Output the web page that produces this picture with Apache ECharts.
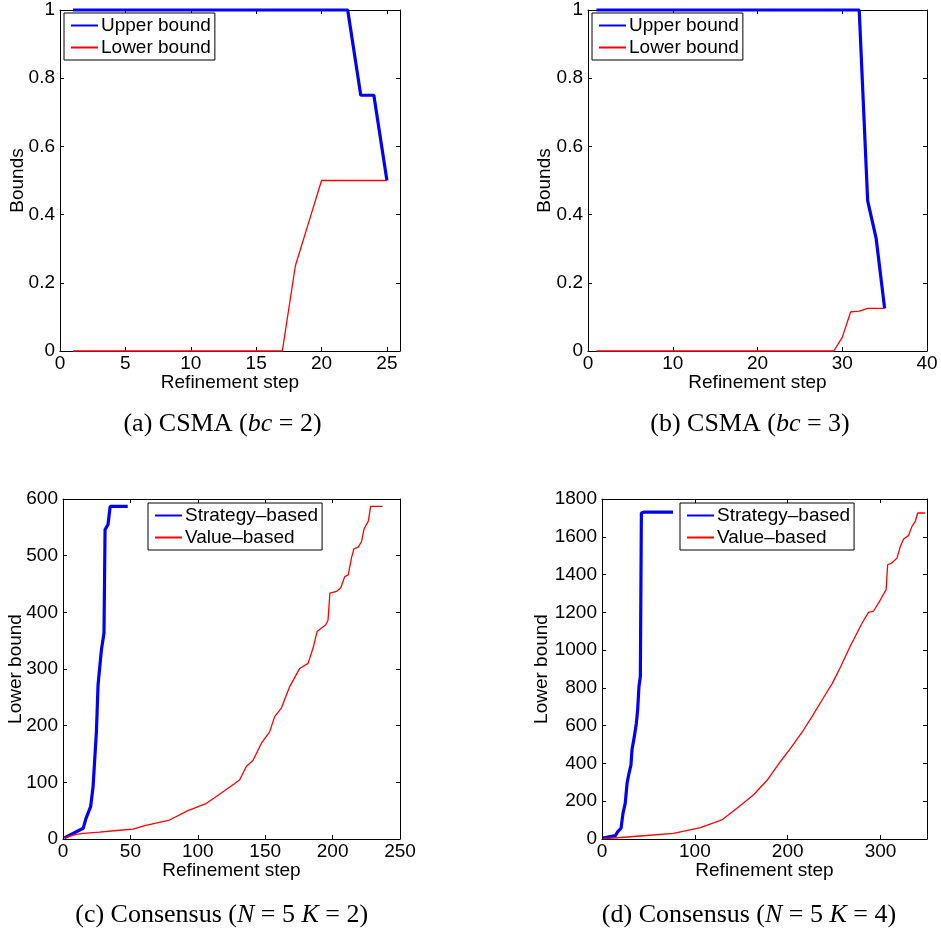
<!DOCTYPE html>
<html>
<head>
<meta charset="utf-8">
<script src="https://cdn.jsdelivr.net/npm/echarts@6/dist/echarts.min.js"></script>
<style>
html,body{margin:0;padding:0;background:#fff;}
#chart{width:941px;height:934px;}
</style>
</head>
<body>
<div id="chart"></div>
<script>
// ---- Data ----
// (a) CSMA bc=2
const csma2Steps = [1,2,3,4,5,6,7,8,9,10,11,12,13,14,15,16,17,18,19,20,21,22,23,24,25];
const csma2Upper = [1,1,1,1,1,1,1,1,1,1,1,1,1,1,1,1,1,1,1,1,1,1,0.75,0.75,0.5];
const csma2Lower = [0,0,0,0,0,0,0,0,0,0,0,0,0,0,0,0,0,0.25,0.375,0.5,0.5,0.5,0.5,0.5,0.5];
// (b) CSMA bc=3
const csma3Steps = [1,2,3,4,5,6,7,8,9,10,11,12,13,14,15,16,17,18,19,20,21,22,23,24,25,26,27,28,29,30,31,32,33,34,35];
const csma3Upper = [1,1,1,1,1,1,1,1,1,1,1,1,1,1,1,1,1,1,1,1,1,1,1,1,1,1,1,1,1,1,1,1,0.44,0.33,0.125];
const csma3Lower = [0,0,0,0,0,0,0,0,0,0,0,0,0,0,0,0,0,0,0,0,0,0,0,0,0,0,0,0,0,0.04,0.115,0.117,0.125,0.125,0.125];
// (c) Consensus N=5 K=2
const cons2StrategySteps = [1,15,17,20.5,22.3,24.8,26,28.5,30.4,31.2,32.2,33.4,35,48];
const cons2StrategyValues = [2,19,36,57,92,190,272,334,363,546,549,555,587,587];
const cons2ValueSteps = [1,5,10,15,27,40,52,60.6,79,92.7,106.4,113.8,127.4,131,136,141,147.2,153.3,157,162,168.2,175.6,181.8,185.5,188.5,194.9,196.6,198,203,206,209,211.6,214,215.8,219,221.5,223.3,226.5,228.2,237];
const cons2ValueValues = [2,5,8,10,12,15,17.6,23.5,33.5,50,63,75,98,104,128,139,169,189,216,231,269,301,310,337,366,378,386,434,437,443,463,466,496,512,515,525,547,561,587,587];
// (d) Consensus N=5 K=4
const cons4StrategySteps = [1,14.4,17,20.5,22.6,25,27,28.7,31.2,32.3,34.8,37,38.4,39.8,41.3,42.4,45,76.5];
const cons4StrategyValues = [5,18,39,57,136,189,295,339,392,472,542,613,684,807,860,1726,1730,1730];
const cons4ValueSteps = [1,20,41,77,106,129,145,163,178,192,203,217,226,237,248,257,267,280,287,292.5,299.7,306,307.6,312,317.7,321.3,324.8,330,333.8,337.4,340,348];
const cons4ValueValues = [2,8,16,30,60,101,162,233,312,409,480,577,647,736,824,912,1018,1142,1200,1207,1265,1320,1452,1461,1487,1549,1588,1606,1655,1682,1726,1726];

const xLabel = 'Refinement step';
const yLabelBounds = 'Bounds';
const yLabelLower = 'Lower bound';
const namesCsma = ['Upper bound', 'Lower bound'];
const namesCons = ['Strategy\u2013based', 'Value\u2013based'];

// ---- Styling ----
const SANS = "'Liberation Sans', Arial, Helvetica, sans-serif";
const SERIF = "'Liberation Serif', 'Times New Roman', serif";
const FS = 19;

function zip(xs, ys){ return xs.map((x,i)=>[x, ys[i]]); }

const grids = [
  {left:60, top:10, width:340, height:341},
  {left:588, top:10, width:339, height:341},
  {left:63, top:499, width:337, height:340},
  {left:602, top:499, width:325, height:340}
];
const axisSpec = [
  {xmin:0,xmax:26,xint:5,ymin:0,ymax:1,yint:0.2,yname:yLabelBounds,ygap:33,hideMaxX:true},
  {xmin:0,xmax:40,xint:10,ymin:0,ymax:1,yint:0.2,yname:yLabelBounds,ygap:33.5,hideMaxX:false},
  {xmin:0,xmax:250,xint:50,ymin:0,ymax:600,yint:100,yname:yLabelLower,ygap:38,hideMaxX:false},
  {xmin:0,xmax:350,xint:100,ymin:0,ymax:1800,yint:200,yname:yLabelLower,ygap:50.5,hideMaxX:true}
];

const plainNum = v => String(Math.round(v * 1000) / 1000);

const xAxes = [], yAxes = [];
axisSpec.forEach((s, g) => {
  const line = {show:true, onZero:false, lineStyle:{color:'#000', width:1}};
  const tick = {show:true, inside:true, length:4, lineStyle:{color:'#000', width:1}};
  xAxes.push({type:'value', gridIndex:g, position:'bottom', min:s.xmin, max:s.xmax, interval:s.xint,
    axisLine:line, axisTick:tick, splitLine:{show:false},
    axisLabel:{color:'#000', fontSize:FS, fontFamily:SANS, margin:3, showMaxLabel: !s.hideMaxX, hideOverlap:false, formatter:plainNum},
    name:xLabel, nameLocation:'middle', nameGap:22, nameMoveOverlap:false,
    nameTextStyle:{color:'#000', fontSize:FS, fontFamily:SANS}});
  xAxes.push({type:'value', gridIndex:g, position:'top', min:s.xmin, max:s.xmax, interval:s.xint,
    axisLine:line, axisTick:tick, splitLine:{show:false}, axisLabel:{show:false}});
  yAxes.push({type:'value', gridIndex:g, position:'left', min:s.ymin, max:s.ymax, interval:s.yint,
    axisLine:line, axisTick:tick, splitLine:{show:false},
    axisLabel:{color:'#000', fontSize:FS, fontFamily:SANS, margin:5, hideOverlap:false, formatter:plainNum},
    name:s.yname, nameLocation:'middle', nameGap:s.ygap, nameMoveOverlap:false,
    nameTextStyle:{color:'#000', fontSize:FS, fontFamily:SANS}});
  yAxes.push({type:'value', gridIndex:g, position:'right', min:s.ymin, max:s.ymax, interval:s.yint,
    axisLine:line, axisTick:tick, splitLine:{show:false}, axisLabel:{show:false}});
});

function mkSeries(name, g, data, color, width, z){
  return {type:'line', name:name, xAxisIndex:2*g, yAxisIndex:2*g, data:data, symbol:'none',
    showSymbol:false, clip:false, z:z, animation:false,
    lineStyle:{color:color, width:width}, itemStyle:{color:color}};
}
const BLUE = '#0000ff', RED = '#ff0000';
const series = [
  mkSeries(namesCsma[0], 0, zip(csma2Steps, csma2Upper), BLUE, 3.2, 3),
  mkSeries(namesCsma[1], 0, zip(csma2Steps, csma2Lower), RED, 1.3, 4),
  mkSeries(namesCsma[0], 1, zip(csma3Steps, csma3Upper), BLUE, 3.2, 3),
  mkSeries(namesCsma[1], 1, zip(csma3Steps, csma3Lower), RED, 1.3, 4),
  mkSeries(namesCons[0], 2, zip(cons2StrategySteps, cons2StrategyValues), BLUE, 3.2, 3),
  mkSeries(namesCons[1], 2, zip(cons2ValueSteps, cons2ValueValues), RED, 1.3, 4),
  mkSeries(namesCons[0], 3, zip(cons4StrategySteps, cons4StrategyValues), BLUE, 3.2, 3),
  mkSeries(namesCons[1], 3, zip(cons4ValueSteps, cons4ValueValues), RED, 1.3, 4)
];

function mkLegend(names, left, top){
  return {show:true, orient:'vertical', left:left, top:top, data:names,
    itemWidth:27, itemHeight:14, itemGap:3, padding:[3,4,3,6],
    itemStyle:{opacity:0, borderWidth:0},
    borderColor:'#000', borderWidth:1, backgroundColor:'#fff', selectedMode:false,
    textStyle:{color:'#000', fontSize:FS, fontFamily:SANS, padding:[0,0,0,-2]}, z:10};
}
const legends = [
  mkLegend(namesCsma, 64, 13),
  mkLegend(namesCsma, 592, 13),
  mkLegend(namesCons, 148, 503),
  mkLegend(namesCons, 680, 503)
];

function caption(x, y, parts){
  const rich = {
    n:{fontFamily:SERIF, fontSize:26, color:'#000'},
    i:{fontFamily:SERIF, fontSize:26, fontStyle:'italic', color:'#000'}
  };
  const text = parts.map(p => '{' + p[0] + '|' + p[1] + '}').join('');
  return {type:'text', x:x, y:y, z:20,
    style:{text:text, rich:rich, align:'center', verticalAlign:'middle', textAlign:'center', textVerticalAlign:'middle',
      fontFamily:SERIF, fontSize:26, fill:'#000'}};
}
const captions = [
  caption(222.5, 424, [['n','(a) CSMA ('],['i','bc'],['n',' = 2)']]),
  caption(750, 424, [['n','(b) CSMA ('],['i','bc'],['n',' = 3)']]),
  caption(221.7, 915, [['n','(c) Consensus ('],['i','N'],['n',' = 5 '],['i','K'],['n',' = 2)']]),
  caption(749, 915, [['n','(d) Consensus ('],['i','N'],['n',' = 5 '],['i','K'],['n',' = 4)']])
];

const chart = echarts.init(document.getElementById('chart'), null, {renderer:'canvas'});
chart.setOption({
  animation:false,
  backgroundColor:'#fff',
  grid: grids.map(g => Object.assign({containLabel:false, outerBoundsMode:'none'}, g)),
  xAxis: xAxes,
  yAxis: yAxes,
  legend: legends,
  series: series,
  graphic: captions
});
</script>
</body>
</html>
